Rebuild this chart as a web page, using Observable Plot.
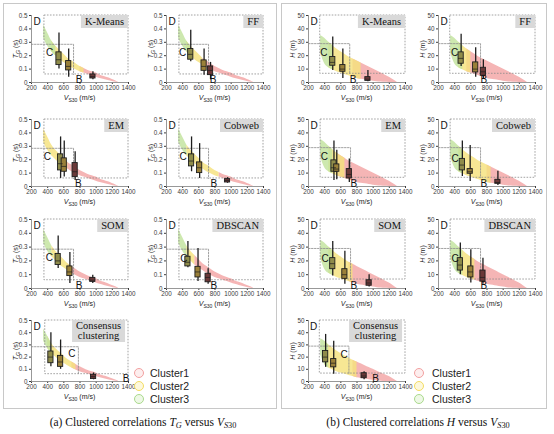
<!DOCTYPE html>
<html><head><meta charset="utf-8">
<script src="https://cdn.jsdelivr.net/npm/d3@7"></script>
<script src="https://cdn.jsdelivr.net/npm/@observablehq/plot@0.6"></script>
<style>
body{margin:0;background:#fff;}
#root{position:relative;width:554px;height:434px;overflow:hidden;font-family:"Liberation Sans",Arial,sans-serif;background:#fff;}
.panel{position:absolute;border:1px solid #c8c8c8;box-sizing:border-box;}
.sub{position:absolute;display:block;overflow:visible;}
.ylab{position:absolute;font-size:7px;transform:translate(-50%,-50%) rotate(-90deg);white-space:nowrap;color:#222;line-height:8px;}
.xlab{position:absolute;font-size:7px;transform:translate(-50%,-50%);white-space:nowrap;color:#222;line-height:8px;}
sub{font-size:72%;vertical-align:-0.3em;line-height:0;}
.title{position:absolute;background:#d9d9d9;font-family:"Liberation Serif","Times New Roman",serif;font-size:10.5px;line-height:12px;padding:1px 4px 0 4px;color:#111;text-align:center;transform:translateX(-100%);white-space:nowrap;}
.cap{position:absolute;font-family:"Liberation Serif","Times New Roman",serif;font-size:11.5px;line-height:14px;transform:translateX(-50%);white-space:nowrap;color:#111;}
.legc{position:absolute;width:8px;height:8px;border-radius:50%;border:1.4px solid;transform:translate(-50%,-50%);}
.legt{position:absolute;font-size:10.5px;line-height:12px;transform:translateY(-50%);color:#222;white-space:nowrap;}
</style>
</head><body>
<div id="root"></div>
<script>
// ---------- data ----------
const methods = ["K-Means","FF","EM","Cobweb","SOM","DBSCAN","Consensus clustering"];
const clusterNames = ["Cluster1","Cluster2","Cluster3"];
const xTicks = [200,400,600,800,1000,1200,1400];
const tgTicks = [0,0.1,0.2,0.3,0.4,0.5];
const hTicks = [0,10,20,30,40,50];

// scatter cloud envelopes (T_G vs V_S30)
const tgBandV  = [350,400,450,500,550,600,650,700,750,800,850,900,950,1000,1050,1100,1150,1200,1250,1280];
const tgBandLo = [0.33,0.27,0.23,0.20,0.17,0.15,0.13,0.11,0.095,0.08,0.07,0.06,0.05,0.04,0.03,0.022,0.015,0.008,0.002,0];
const tgBandHi = [0.43,0.37,0.31,0.27,0.24,0.21,0.18,0.16,0.14,0.12,0.105,0.09,0.08,0.07,0.055,0.045,0.035,0.022,0.01,0];
// scatter cloud envelopes (H vs V_S30)
const hBandV  = [350,400,450,500,550,600,650,700,750,800,850,900,950,1000,1050,1100,1150,1200,1250,1300];
const hBandLo = [22,14,11,9.5,8,7,6,5,4,3,2.5,2,1.5,1,0.6,0.3,0.1,0,0,0];
const hBandHi = [35,33,30,27.5,25,23,21,19,17.5,16,14.5,13,11.5,10,8.5,7,5.5,4,2,0];

// V_S30 extent of each cluster's cloud, per method
const tgRangeC1 = [[800,1280],[650,1280],[550,1280],[850,1280],[650,1280],[550,1280],[700,1280]];
const tgRangeC2 = [[450,850],[450,650],[350,650],[450,850],[450,700],[450,550],[400,750]];
const tgRangeC3 = [[350,500],[350,500],[350,350],[350,450],[350,450],[350,450],[350,450]];
const hRangeC1 = [[750,1300],[550,1300],[550,1300],[800,1300],[700,1300],[600,1300],[750,1300]];
const hRangeC2 = [[450,850],[450,600],[450,650],[450,850],[450,750],[450,650],[400,800]];
const hRangeC3 = [[350,500],[350,500],[350,500],[350,500],[350,500],[350,500],[350,450]];

// box plots: V_S30 position of each cluster box, per method
const tgBoxV = [[540,660,960],[500,665,745],[560,605,740],[510,610,955],[530,675,958],[465,590,715],[440,560,968]];
const tgWhiskLo = [[0.10,0.04,0.02],[0.155,0.055,0.02],[0.06,0.07,0.045],[0.11,0.06,0.024],[0.145,0.036,0.036],[0.15,0.05,0.03],[0.12,0.10,0.014]];
const tgQ1      = [[0.13,0.09,0.03],[0.17,0.087,0.055],[0.12,0.11,0.07],[0.15,0.10,0.03],[0.17,0.09,0.048],[0.16,0.08,0.045],[0.15,0.12,0.02]];
const tgMed     = [[0.17,0.12,0.045],[0.21,0.12,0.09],[0.17,0.15,0.11],[0.19,0.14,0.045],[0.20,0.12,0.06],[0.19,0.12,0.08],[0.20,0.16,0.04]];
const tgQ3      = [[0.225,0.16,0.06],[0.25,0.165,0.12],[0.24,0.21,0.175],[0.24,0.18,0.055],[0.25,0.16,0.077],[0.23,0.157,0.107],[0.246,0.21,0.055]];
const tgWhiskHi = [[0.37,0.25,0.08],[0.39,0.25,0.15],[0.37,0.34,0.26],[0.37,0.32,0.066],[0.38,0.26,0.096],[0.34,0.29,0.144],[0.40,0.34,0.07]];

const hBoxV = [[500,625,935],[480,660,755],[515,550,705],[495,592,935],[500,650,950],[470,600,750],[412,512,888]];
const hWhiskLo = [[9,3,0.5],[12,4,2.5],[4.5,5,3],[7.5,3.7,0.7],[9,3,1],[10,4,3],[11.6,6,1.4]];
const hQ1      = [[12.5,8,1.2],[14,7.5,5],[11,11,6],[12,9.5,2],[14,7,2],[13,8,5],[15.7,11.6,2.7]];
const hMed     = [[15,10,2.5],[18,10,8],[14,13,9],[16,11,3],[18,10,4],[17,12,8],[20,15,4.5]];
const hQ3      = [[19,13,4],[22.5,15,11],[19.5,16.5,13],[20.6,13,5],[22,14,6],[22,16,13],[25,18.4,6.8]];
const hWhiskHi = [[34,25,9],[36,26,17],[34,27,20.6],[34,30.6,11.4],[34,27,10],[33,28,22],[38.6,33,8]];

// site-class boundaries (dotted lines)
const tgBoundD = [360,360,360,360,360,360,370];
const tgBoundC = [720,720,720,720,720,720,780];
const tgBoundLow = 0.06, tgBoundMid = 0.285;
const hBoundD = [345,345,350,350,350,350,340];
const hBoundC = [710,720,720,720,720,720,700];
const hBoundLow = 6.5, hBoundMid = 29;

// site-class letters (V_S30, value)
const tgLabelD = [[268,0.455],[268,0.455],[268,0.455],[268,0.455],[268,0.455],[268,0.455],[268,0.45]];
const tgLabelC = [[425,0.225],[400,0.225],[395,0.225],[405,0.225],[420,0.225],[415,0.215],[700,0.23]];
const tgLabelB = [[790,0.022],[775,0.022],[780,0.022],[785,0.022],[790,0.022],[785,0.022],[1370,0.022]];
const hLabelD = [[268,45.5],[268,45.5],[268,45.5],[268,45.5],[268,45.5],[268,45.5],[262,45]];
const hLabelC = [[390,22.5],[400,22],[395,22],[405,21],[405,21.5],[405,21.5],[640,22]];
const hLabelB = [[750,2.2],[760,2.2],[760,2.2],[760,2.2],[760,2.2],[760,2.2],[1030,2.2]];

// ---------- styles ----------
const clusterColors = ["#f3a5a5","#f5e27c","#c2e39e"];
const legendStroke = ["#f2a0a0","#f3dc62","#a9d98c"];
const legendFill = ["#fdeeee","#fdf8dc","#eef8e6"];
const boxFills = ["#8f8c4a","#9a8039","#6a3838"];

const root = document.getElementById("root");
function el(cls, left, top, html, extra) {
  const d = document.createElement("div");
  d.className = cls;
  d.style.left = left + "px";
  d.style.top = top + "px";
  if (html != null) d.innerHTML = html;
  if (extra) Object.assign(d.style, extra);
  root.appendChild(d);
  return d;
}

// panel borders
el("panel", 3, 3, null, {width: "274px", height: "406px"});
el("panel", 281, 3, null, {width: "266px", height: "406px"});

const ML = 30, MR = 6, MT = 6, MB = 26, FW = 97;
const colLeft = {a: [31, 166], b: [308, 438]};
const rowTop = [15, 119, 219, 320];
const rowH = [67, 67, 69, 61];

function subplot(panel, i) {
  const tg = panel === "a";
  const row = Math.floor(i / 2), col = i % 2;
  const fl = colLeft[panel][col], ft = rowTop[row], fh = rowH[row];
  const xDomain = [xTicks[0], xTicks[xTicks.length - 1]];
  const yT = tg ? tgTicks : hTicks;
  const yDomain = [yT[0], yT[yT.length - 1]];
  const bandV = tg ? tgBandV : hBandV, bandLo = tg ? tgBandLo : hBandLo, bandHi = tg ? tgBandHi : hBandHi;
  const ranges = tg ? [tgRangeC1, tgRangeC2, tgRangeC3] : [hRangeC1, hRangeC2, hRangeC3];
  const bV = tg ? tgBoxV : hBoxV, wl = tg ? tgWhiskLo : hWhiskLo, q1 = tg ? tgQ1 : hQ1,
        md = tg ? tgMed : hMed, q3 = tg ? tgQ3 : hQ3, wh = tg ? tgWhiskHi : hWhiskHi;
  const bD = tg ? tgBoundD : hBoundD, bC = tg ? tgBoundC : hBoundC;
  const low = tg ? tgBoundLow : hBoundLow, mid = tg ? tgBoundMid : hBoundMid;
  const lD = tg ? tgLabelD : hLabelD, lC = tg ? tgLabelC : hLabelC, lB = tg ? tgLabelB : hLabelB;

  const bandMarks = [0, 1, 2].map(c => {
    const r = ranges[c][i];
    const pts = bandV.map((v, j) => ({v, lo: bandLo[j], hi: bandHi[j]})).filter(d => d.v >= r[0] && d.v <= r[1]);
    return pts.length > 1 ? Plot.areaY(pts, {x: "v", y1: "lo", y2: "hi", fill: clusterColors[c], fillOpacity: 0.82, curve: "monotone-x"}) : null;
  }).filter(Boolean);

  const boxes = bV[i].map((v, k) => ({v, k, lo: wl[i][k], q1: q1[i][k], med: md[i][k], q3: q3[i][k], hi: wh[i][k]}));
  const dash = {stroke: "#8a8a8a", strokeWidth: 0.8, strokeDasharray: "1.6,1.4"};

  const svg = Plot.plot({
    width: ML + FW + MR, height: MT + fh + MB,
    marginLeft: ML, marginRight: MR, marginTop: MT, marginBottom: MB,
    x: {domain: xDomain, ticks: xTicks, tickSize: 2, tickPadding: 1.5, tickFormat: d => String(d), label: null},
    y: {domain: yDomain, ticks: yT, tickSize: 2, tickPadding: 2, tickFormat: d => String(d), label: null},
    style: {fontSize: "6.3px", fontFamily: "'Liberation Sans', Arial, sans-serif", color: "#3a3a3a", background: "transparent", overflow: "visible"},
    marks: [
      ...bandMarks,
      Plot.rect([{x1: bD[i], x2: xDomain[1], y1: low, y2: yDomain[1]}], {x1: "x1", x2: "x2", y1: "y1", y2: "y2", fill: "none", ...dash}),
      Plot.line([{x: xDomain[0], y: mid}, {x: bC[i], y: mid}, {x: bC[i], y: low}], {x: "x", y: "y", ...dash}),
      Plot.ruleX([xDomain[0]], {stroke: "#8c8c8c", strokeWidth: 0.9}),
      Plot.ruleY([yDomain[0]], {stroke: "#8c8c8c", strokeWidth: 0.9}),
      Plot.ruleX(boxes, {x: "v", y1: "lo", y2: "hi", stroke: "#1e1e1e", strokeWidth: 1.3}),
      Plot.rect(boxes, {x1: "v", x2: "v", y1: "q1", y2: "q3", insetLeft: -2.6, insetRight: -2.6, fill: d => boxFills[d.k], stroke: "#1e1e1e", strokeWidth: 0.9}),
      Plot.ruleY(boxes, {y: "med", x1: "v", x2: "v", insetLeft: -2.6, insetRight: -2.6, stroke: "#1e1e1e", strokeWidth: 0.7}),
      Plot.text([{x: lD[i][0], y: lD[i][1], t: "D"}, {x: lC[i][0], y: lC[i][1], t: "C"}, {x: lB[i][0], y: lB[i][1], t: "B"}],
        {x: "x", y: "y", text: "t", fontSize: 10, fill: "#111"})
    ]
  });
  svg.classList.add("sub");
  svg.style.left = (fl - ML) + "px";
  svg.style.top = (ft - MT) + "px";
  svg.style.position = "absolute";
  root.appendChild(svg);

  // axis titles
  el("ylab", fl - 15, ft + fh / 2, tg ? "<i>T</i><sub><i>G</i></sub> (s)" : "<i>H</i> (m)");
  el("xlab", fl + FW / 2, ft + fh + 16, "<i>V</i><sub>S30</sub> (m/s)");
  // method title box
  if (i === 6) {
    el("title", fl + FW - 3, ft, "Consensus<br>clustering", {lineHeight: "10px", padding: "1px 4px 1px 4px"});
  } else {
    el("title", fl + FW, ft, methods[i]);
  }
}

for (const p of ["a", "b"]) for (let i = 0; i < methods.length; i++) subplot(p, i);

// legends
for (const [cx, tx] of [[139, 150], [419, 432]]) {
  clusterNames.forEach((name, c) => {
    el("legc", cx, 373 + c * 13, null, {borderColor: legendStroke[c], background: legendFill[c]});
    el("legt", tx, 373 + c * 13, name);
  });
}

// captions
el("cap", 143, 415, "(a) Clustered correlations <i>T</i><sub><i>G</i></sub> versus <i>V</i><sub><i>S</i>30</sub>");
el("cap", 418, 415, "(b) Clustered correlations <i>H</i> versus <i>V</i><sub><i>S</i>30</sub>");
</script>
</body></html>
